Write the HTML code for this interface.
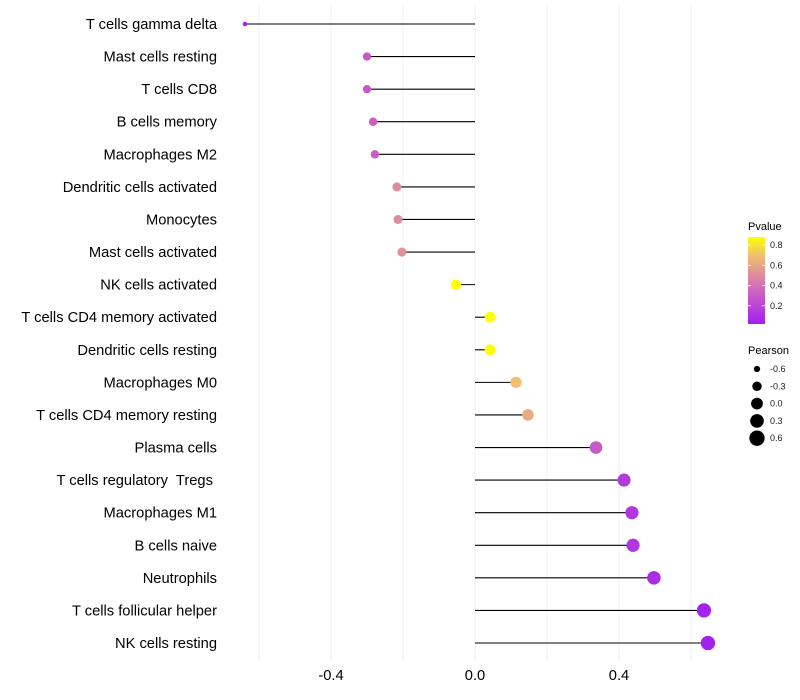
<!DOCTYPE html>
<html><head><meta charset="utf-8">
<style>
body{margin:0;background:#fff;}
svg{display:block;font-family:"Liberation Sans",sans-serif;}
text{white-space:pre;}
</style></head>
<body>
<svg id="chart" width="800" height="700" viewBox="0 0 800 700" xmlns="http://www.w3.org/2000/svg">
<defs>
<linearGradient id="pgrad" x1="0" y1="1" x2="0" y2="0">
<stop offset="0" stop-color="#a020f0"/>
<stop offset="0.33" stop-color="#c85ac8"/>
<stop offset="0.56" stop-color="#dd8c9c"/>
<stop offset="0.79" stop-color="#f0c070"/>
<stop offset="1" stop-color="#ffff00"/>
</linearGradient>
</defs>
<g id="grid"></g>
<g id="marks"></g>
<g id="ylabels"></g>
<g id="xlabels"></g>
<g>
<text x="748" y="230" font-size="11" fill="#000">Pvalue</text>
<rect x="748" y="237" width="17" height="87" fill="url(#pgrad)"/>
<g id="pticks"></g>
</g>
<g>
<text x="748" y="354" font-size="11" fill="#000">Pearson</text>
<g id="sizeleg"></g>
</g>
</svg>
<script>
const categories=["T cells gamma delta","Mast cells resting","T cells CD8","B cells memory","Macrophages M2","Dendritic cells activated","Monocytes","Mast cells activated","NK cells activated","T cells CD4 memory activated","Dendritic cells resting","Macrophages M0","T cells CD4 memory resting","Plasma cells","T cells regulatory  Tregs ","Macrophages M1","B cells naive","Neutrophils","T cells follicular helper","NK cells resting"];
const pearson=[-0.639,-0.30,-0.30,-0.283,-0.278,-0.217,-0.214,-0.203,-0.053,0.042,0.042,0.114,0.147,0.336,0.414,0.436,0.439,0.497,0.636,0.647];
const pvalue=[0.02,0.30,0.30,0.32,0.32,0.50,0.50,0.52,0.88,0.87,0.87,0.70,0.62,0.30,0.15,0.13,0.13,0.09,0.04,0.03];
const xTicks=[-0.4,0.0,0.4];
const xTickLabels=["-0.4","0.0","0.4"];
const gridVals=[-0.6,-0.4,-0.2,0,0.2,0.4,0.6];
const pTicks=[0.2,0.4,0.6,0.8];
const sizeTicks=[-0.6,-0.3,0.0,0.3,0.6];
const sizeTickLabels=["-0.6","-0.3","0.0","0.3","0.6"];

const NS="http://www.w3.org/2000/svg";
const X=v=>475+v*360;
const Y=i=>24+i*(643-24)/(categories.length-1);
const R=v=>Math.sqrt(Math.max(3,28+36*v));
const pmin=0.02,pmax=0.88;
const stops=[[0,[160,32,240]],[0.33,[200,90,200]],[0.56,[221,140,156]],[0.79,[240,192,112]],[1,[255,255,0]]];
function col(p){let t=(p-pmin)/(pmax-pmin);t=Math.max(0,Math.min(1,t));
for(let k=1;k<stops.length;k++){if(t<=stops[k][0]){const a=stops[k-1],b=stops[k];const f=(t-a[0])/(b[0]-a[0]);
return "rgb("+a[1].map((c,j)=>Math.round(c+(b[1][j]-c)*f)).join(",")+")";}}return "rgb(255,255,0)";}
function mk(tag,attrs,parent){const e=document.createElementNS(NS,tag);for(const k in attrs)e.setAttribute(k,attrs[k]);parent.appendChild(e);return e;}

const grid=document.getElementById('grid');
gridVals.forEach(v=>{const l=mk('line',{x1:X(v),x2:X(v),y1:5,y2:660,stroke:'#f0f0f0','stroke-width':1},grid);

});

const marks=document.getElementById('marks');
const yl=document.getElementById('ylabels');
categories.forEach((c,i)=>{
 const y=Y(i);
 const s=mk('line',{x1:X(0),x2:X(pearson[i]),y1:y,y2:y,stroke:'#000','stroke-width':1.1},marks);
 
 
 const d=mk('circle',{cx:X(pearson[i]),cy:y,r:R(pearson[i]),fill:col(pvalue[i])},marks);
 
 
 const t=mk('text',{x:217,y:y+5,'text-anchor':'end','font-size':14.7,fill:'#000'},yl);
 t.textContent=c;
 
 
});
const xl=document.getElementById('xlabels');
xTicks.forEach((v,i)=>{const t=mk('text',{x:X(v),y:680,'text-anchor':'middle','font-size':14.7,fill:'#000'},xl);
t.textContent=xTickLabels[i];

});

const pt=document.getElementById('pticks');
const PY=p=>324-(p-pmin)/(pmax-pmin)*87;
pTicks.forEach(p=>{const y=PY(p);
mk('line',{x1:748,x2:751,y1:y,y2:y,stroke:'#fff','stroke-width':0.8},pt);
mk('line',{x1:762,x2:765,y1:y,y2:y,stroke:'#fff','stroke-width':0.8},pt);
const t=mk('text',{x:770,y:y+3,'font-size':9,fill:'#1a1a1a'},pt);t.textContent=p.toFixed(1);

});

const sl=document.getElementById('sizeleg');
sizeTicks.forEach((v,i)=>{const y=369+i*17.3;
const c=mk('circle',{cx:757,cy:y,r:R(v)+0.6,fill:'#000'},sl);


const t=mk('text',{x:770,y:y+3,'font-size':9,fill:'#1a1a1a'},sl);t.textContent=sizeTickLabels[i];

});
</script>
</body></html>
